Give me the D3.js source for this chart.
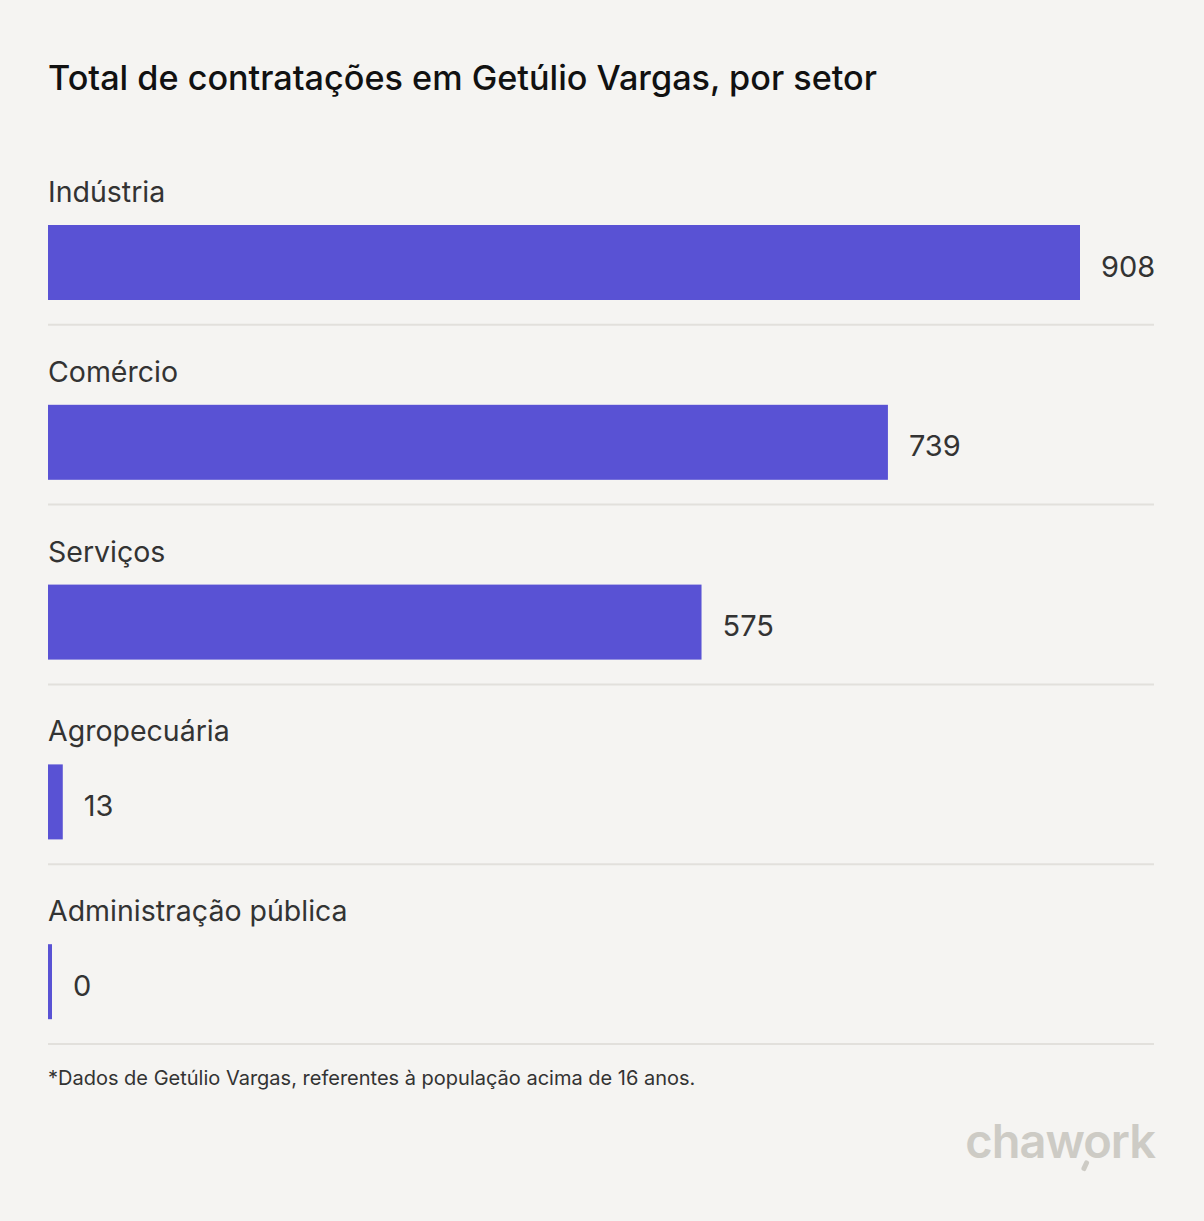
<!DOCTYPE html>
<html><head><meta charset="utf-8">
<script src="https://cdn.jsdelivr.net/npm/d3@7"></script>
<style>
html,body{margin:0;padding:0;background:#f5f4f2;}
svg{display:block;font-family:Inter,"Noto Sans",sans-serif;}
</style></head>
<body>
<svg id="c" width="1204" height="1221"></svg>
<script>
const categories = ["Indústria","Comércio","Serviços","Agropecuária","Administração pública"];
const values = [908, 739, 575, 13, 0];
const titleText = "Total de contratações em Getúlio Vargas, por setor";
const footnote = "*Dados de Getúlio Vargas, referentes à população acima de 16 anos.";

const svg = d3.select("#c");
svg.append("rect").attr("width",1204).attr("height",1221).attr("fill","#f5f4f2");

svg.append("text").attr("x",48).attr("y",90).attr("font-size",34).attr("font-weight",500)
  .attr("fill","#111").attr("textLength",829).attr("lengthAdjust","spacingAndGlyphs").text(titleText);

const left = 48, right = 1154;
const x = d3.scaleLinear().domain([0, 908]).range([left, 1080]);
const y = d3.scaleBand().domain(categories).range([145, 1044]).paddingInner(0).paddingOuter(0);

const g = svg.append("g");
const rows = g.selectAll("g.row").data(categories.map((c,i)=>({c, v: values[i]}))).join("g")
  .attr("transform", d => `translate(0,${y(d.c)})`);

rows.append("text").attr("x",left).attr("y",57).attr("font-size",28.5).attr("fill","#333")
  .text(d => d.c);

const barW = d => Math.max(x(d.v) - left, 4);
rows.append("rect").attr("x",left).attr("y",80).attr("height",75)
  .attr("width", barW).attr("fill","#5952d4");

rows.append("text").attr("x", d => left + barW(d) + 21).attr("y",121)
  .attr("dominant-baseline","central").attr("font-size",29).attr("fill","#333")
  .text(d => d3.format("d")(d.v));

rows.append("line").attr("x1",left).attr("x2",right)
  .attr("y1", y.bandwidth()).attr("y2", y.bandwidth())
  .attr("stroke","#e2e0dc").attr("stroke-width",2);

svg.append("text").attr("x",48).attr("y",1085).attr("font-size",20).attr("fill","#333")
  .text(footnote);

svg.append("text").attr("x",1155).attr("y",1158).attr("text-anchor","end")
  .attr("font-size",47).attr("font-weight",600).attr("letter-spacing",-1)
  .attr("fill","#cdcbc5").text("chawork");
svg.append("rect").attr("x",1083).attr("y",1160).attr("width",5).attr("height",11)
  .attr("rx",2).attr("fill","#cdcbc5").attr("transform","rotate(25,1085,1165)");
</script>
</body></html>
